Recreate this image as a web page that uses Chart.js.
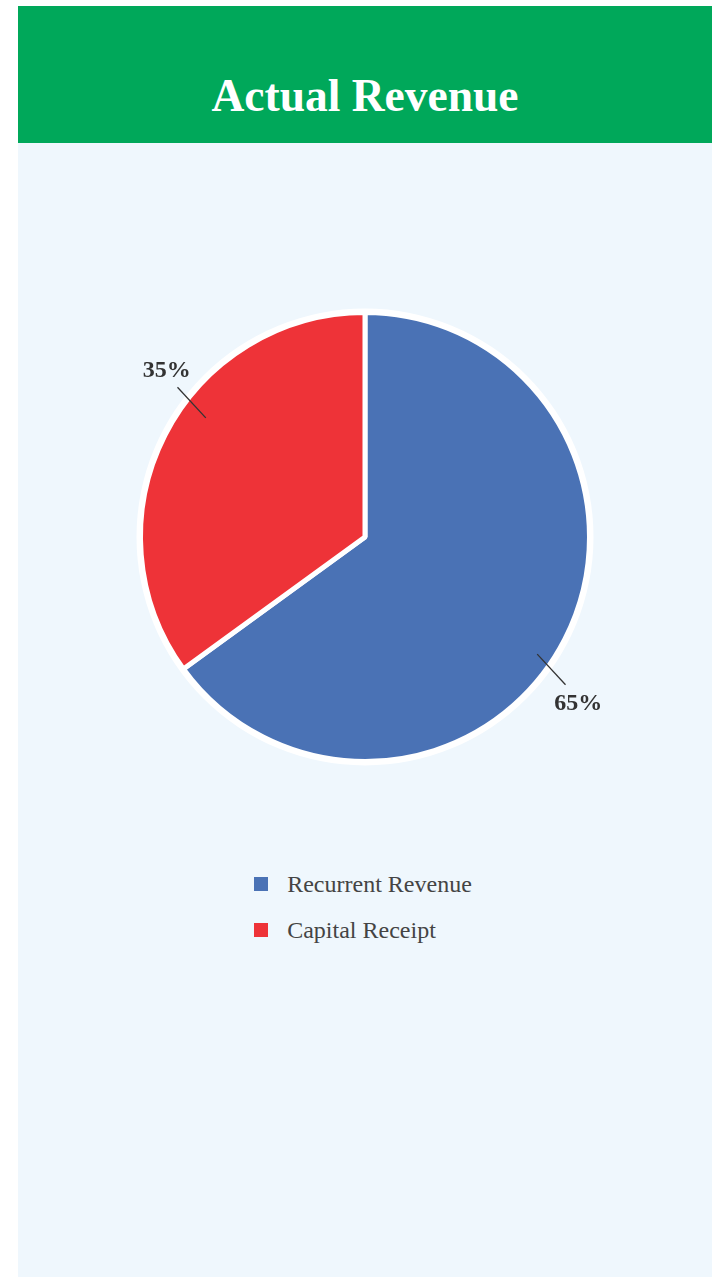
<!DOCTYPE html>
<html>
<head>
<meta charset="utf-8">
<title>Actual Revenue</title>
<script src="https://cdn.jsdelivr.net/npm/chart.js@4/dist/chart.umd.min.js"></script>
<style>
  body { margin: 0; background: #fff; }
  #wrap { position: absolute; left: 18px; top: 6px; width: 694px; height: 1271px; background: #eff7fd; }
  #header { position: absolute; left: 0; top: 0; width: 694px; height: 137px; background: #00a85a; }
  #header h1 { position: absolute; left: 0; top: 67px; width: 100%; margin: 0; text-align: center;
    font: bold 45.5px/46px "Liberation Serif", "Times New Roman", serif; color: #fff; }
  #chartBox { position: absolute; left: 0; top: 137px; width: 694px; height: 700px; }
  #legend { position: absolute; left: -2px; top: 855px; width: 694px; }
  #legend ul { display: table; margin: 0 auto; padding: 0; list-style: none; }
  #legend li { display: flex; align-items: center; height: 46px;
    font: 24px/46px "Liberation Serif", "Times New Roman", serif; color: #444; }
  #legend li span { display: inline-block; width: 14px; height: 14px; margin-right: 19px; }
</style>
</head>
<body>
<div id="wrap">
  <div id="header"><h1>Actual Revenue</h1></div>
  <div id="chartBox"><canvas id="pie"></canvas></div>
  <div id="legend"><ul></ul></div>
</div>
<script>
var categories = ["Recurrent Revenue", "Capital Receipt"];
var shares = [65, 35];
var sliceColors = ["#4a72b5", "#ee3338"];

// white halo round the whole pie
var pieHalo = {
    id: "pieHalo",
    beforeDatasetsDraw: function(chart) {
        var arc = chart.getDatasetMeta(0).data[0];
        if (!arc) return;
        var p = arc.getProps(["x", "y", "outerRadius"], true);
        var ctx = chart.ctx;
        ctx.save();
        ctx.fillStyle = "#fff";
        ctx.beginPath();
        ctx.arc(p.x, p.y, p.outerRadius + 4, 0, Math.PI * 2);
        ctx.fill();
        ctx.restore();
    }
};

// percentage labels outside the pie with a short leader line
var outsideLabels = {
    id: "outsideLabels",
    afterDatasetsDraw: function(chart) {
        var ctx = chart.ctx;
        var arcs = chart.getDatasetMeta(0).data;
        var total = shares.reduce(function(a, b) { return a + b; }, 0);
        ctx.save();
        ctx.strokeStyle = "#333";
        ctx.fillStyle = "#333";
        ctx.lineWidth = 1.3;
        ctx.font = "bold 24px 'Liberation Serif', 'Times New Roman', serif";
        ctx.textAlign = "center";
        ctx.textBaseline = "middle";
        arcs.forEach(function(arc, i) {
            var p = arc.getProps(["x", "y", "startAngle", "endAngle", "outerRadius"], true);
            var mid = (p.startAngle + p.endAngle) / 2;
            var cx = p.x + 6.5, cy = p.y - 1;
            var at = function(off, r) {
                return [cx + Math.cos(mid + off) * r, cy + Math.sin(mid + off) * r];
            };
            var a = at(0.148, p.outerRadius - 21);
            var b = at(0.183, p.outerRadius + 20);
            var t = at(0.209, p.outerRadius + 40);
            ctx.beginPath();
            ctx.moveTo(a[0], a[1]);
            ctx.lineTo(b[0], b[1]);
            ctx.stroke();
            ctx.fillText(Math.round(shares[i] / total * 100) + "%", t[0] + 1, t[1] + 1);
        });
        ctx.restore();
    }
};

var chart = new Chart(document.getElementById("pie").getContext("2d"), {
    type: "pie",
    data: {
        labels: categories,
        datasets: [{
            data: shares,
            backgroundColor: sliceColors,
            borderColor: "#fff",
            borderWidth: 5
        }]
    },
    options: {
        responsive: true,
        maintainAspectRatio: false,
        animation: false,
        radius: 224.5,
        layout: { padding: { left: 121, right: 121, top: 168, bottom: 80 } },
        plugins: {
            legend: { display: false },
            tooltip: { enabled: false }
        }
    },
    plugins: [pieHalo, outsideLabels]
});

// html legend, one item per row
var ul = document.querySelector("#legend ul");
chart.data.labels.forEach(function(label, i) {
    var li = document.createElement("li");
    var box = document.createElement("span");
    box.style.background = sliceColors[i];
    li.appendChild(box);
    li.appendChild(document.createTextNode(label));
    ul.appendChild(li);
});
</script>
</body>
</html>
